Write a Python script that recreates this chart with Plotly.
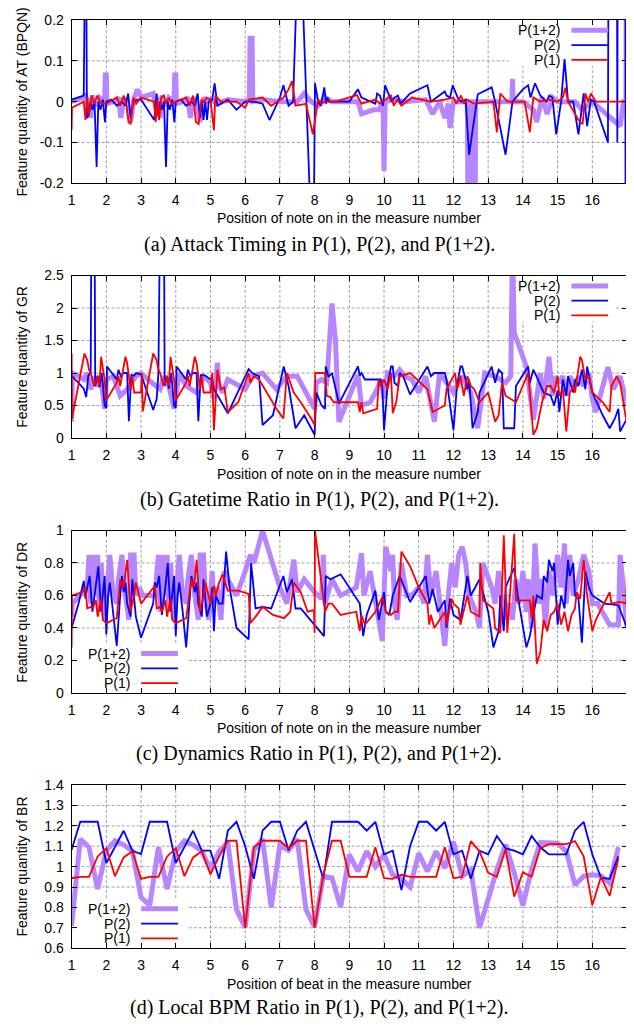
import plotly.graph_objects as go

# ---------------- data ----------------
# (a) Attack Timing
a_x2 = [1.0, 1.35, 1.41, 1.44, 1.5, 1.55, 1.6, 1.66, 1.72, 1.77, 1.83, 1.9, 1.96, 2.0, 2.15, 2.3, 2.45, 2.55, 2.63, 2.7, 2.78, 2.9, 3.0,
        3.38, 3.45, 3.5, 3.55, 3.6, 3.66, 3.72, 3.77, 3.83, 3.9, 3.96, 4.0, 4.15, 4.3, 4.45, 4.55, 4.63, 4.7, 4.75, 4.8, 4.85, 4.9, 4.95,
        5.05, 5.12, 5.2, 5.5, 5.75, 6.0, 6.25, 6.5, 6.7, 7.0, 7.1, 7.25, 7.38, 7.56, 7.96, 8.01, 8.1, 8.18, 8.28, 8.33, 8.37, 8.42, 8.5,
        9.0, 9.25, 9.35, 9.75, 9.8, 9.88, 9.97, 10.03, 10.12, 10.22, 10.3, 10.4, 10.48, 10.75, 11.25, 11.35, 11.75, 11.8, 11.9, 11.98,
        12.12, 12.22, 12.35, 12.45, 12.7, 13.1, 13.2, 13.5, 13.7, 14.0, 14.15, 14.22, 14.35, 14.5, 14.68, 14.76, 14.85, 14.96, 15.1,
        15.2, 15.3, 15.45, 15.6, 15.75, 15.85, 15.96, 16.05, 16.45, 16.48, 16.7, 16.72, 16.74, 16.95, 16.97]
a_y2 = [0.005, 0.015, 0.6, -0.04, -0.03, 0.0, -0.02, 0.0, -0.16, 0.0, -0.02, 0.005, -0.05, 0.0, 0.005, -0.01, 0.0, -0.01, 0.02, -0.04, 0.0, 0.005, 0.005,
        -0.045, 0.02, -0.035, 0.0, -0.02, 0.0, -0.16, 0.0, -0.02, 0.005, -0.05, 0.0, 0.005, -0.01, 0.0, -0.01, 0.02, -0.04, 0.0, -0.045, 0.0, -0.045, 0.0,
        0.005, 0.045, -0.01, 0.005, -0.02, 0.0, 0.0, -0.005, -0.045, 0.01, 0.04, -0.01, 0.0, 0.48, -0.46, 0.045, 0.0, -0.01, 0.035, -0.005, 0.01, 0.0, 0.0,
        0.0, 0.03, 0.01, -0.005, 0.02, 0.015, -0.01, 0.04, 0.02, 0.0, 0.01, 0.015, -0.005, 0.02, 0.04, 0.0, 0.025, 0.015, 0.01, 0.04,
        0.01, 0.0, 0.005, -0.13, 0.018, 0.035, 0.0, -0.13, 0.0, 0.03, 0.04, 0.01, 0.045, 0.015, 0.0, 0.015, 0.01, -0.08, 0.0,
        0.104, 0.0, 0.0, -0.08, 0.02, -0.06, 0.005, 0.0, -0.1, 0.8, 0.8, -0.1, 0.8, 0.8, -0.8]
a_x1 = [1.0, 1.01, 1.35, 1.4, 1.45, 1.5, 1.58, 1.65, 1.74, 1.85, 2.0, 2.3, 2.4, 2.5, 2.58, 2.64, 2.7, 2.78, 2.86, 3.0,
        3.38, 3.42, 3.47, 3.52, 3.58, 3.66, 3.72, 3.8, 3.88, 4.0, 4.3, 4.4, 4.5, 4.58, 4.66, 4.74, 4.8, 4.9, 5.0, 5.1, 5.14, 5.3,
        5.75, 6.0, 6.1, 6.5, 6.75, 7.1, 7.25, 7.35, 7.45, 7.75, 7.95, 8.1, 8.2, 8.3, 8.6, 9.22, 9.35, 9.75, 9.88, 10.05, 10.2,
        10.28, 10.38, 10.5, 10.8, 11.35, 11.75, 12.0, 12.08, 12.22, 12.3, 12.38, 12.6, 13.15, 13.25, 13.35, 13.55, 14.05, 14.2,
        14.3, 14.5, 14.75, 15.0, 15.15, 15.22, 15.3, 15.6, 15.72, 15.8, 15.88, 15.96, 16.1, 17.0]
a_y1 = [-0.07, -0.015, 0.0, -0.045, 0.01, -0.03, 0.015, -0.005, 0.015, -0.005, -0.005, 0.01, -0.01, 0.015, -0.01, -0.05, -0.055, 0.01, -0.005, 0.01,
        0.0, -0.05, 0.005, -0.045, 0.01, 0.015, -0.005, 0.01, -0.005, 0.0, 0.01, -0.01, 0.015, -0.05, -0.055, 0.005, 0.0, 0.01, 0.005, -0.07, 0.015, 0.0,
        0.0, -0.015, 0.005, 0.01, -0.01, 0.01, 0.03, 0.05, -0.01, -0.005, -0.08, 0.005, -0.005, 0.0, 0.0, 0.016, -0.005, 0.005, -0.005, 0.005, 0.015,
        -0.01, 0.005, -0.01, 0.01, 0.0, 0.005, 0.01, -0.005, 0.015, -0.005, 0.005, -0.005, 0.0, -0.075, 0.02, 0.0, 0.0, -0.075,
        0.01, 0.0, 0.005, 0.0, 0.01, 0.034, 0.0, -0.045, -0.055, 0.02, 0.0, 0.02, 0.0, 0.0]
a_x12 = [1.0, 1.35, 1.4, 1.45, 1.5, 1.55, 1.6, 1.7, 1.8, 1.95, 1.97, 2.0, 2.02, 2.2, 2.35, 2.42, 2.5, 2.62, 2.7, 2.8, 2.9, 3.0,
         3.35, 3.45, 3.5, 3.55, 3.6, 3.7, 3.8, 3.95, 3.97, 4.0, 4.02, 4.2, 4.35, 4.42, 4.5, 4.62, 4.7, 4.8, 4.9, 5.0, 5.2, 5.5,
         6.0, 6.12, 6.14, 6.2, 6.22, 6.5, 7.0, 7.5, 7.7, 7.9, 8.1, 8.3, 8.5, 9.25, 9.35, 9.7, 9.85, 9.97, 10.0, 10.03, 10.3, 10.6,
         11.2, 11.4, 11.6, 11.75, 11.85, 11.9, 12.0, 12.4, 12.43, 12.46, 12.58, 12.61, 12.64, 13.5, 13.68, 13.7, 13.72, 14.0, 14.3, 14.4,
         14.55, 14.7, 14.85, 15.0, 15.5, 15.7, 16.0, 16.8, 16.9, 16.97, 16.98, 17.0]
a_y12 = [0.0, 0.01, 0.02, -0.03, 0.01, -0.04, 0.015, -0.01, 0.01, 0.0, 0.065, 0.065, -0.005, 0.0, 0.01, -0.04, 0.01, -0.01, -0.05, 0.01, 0.03, 0.01,
         0.02, -0.03, 0.01, -0.04, 0.015, -0.01, 0.01, 0.0, 0.065, 0.065, -0.005, 0.0, 0.01, -0.04, 0.01, -0.01, -0.05, 0.01, 0.0, 0.005, -0.005, 0.005,
         0.0, 0.005, 0.155, 0.155, 0.0, 0.005, 0.0, 0.0, 0.02, 0.0, -0.01, 0.01, 0.0, 0.0, -0.03, -0.02, -0.02, 0.0, -0.17, 0.0, 0.005, 0.0,
         0.005, -0.03, 0.0, -0.04, -0.005, -0.065, 0.0, 0.0, -0.5, 0.0, 0.0, -0.5, 0.0, 0.0, 0.0, 0.056, 0.0, 0.0, -0.02, -0.05,
         0.01, -0.03, 0.01, 0.0, 0.0, -0.02, 0.0, -0.06, 0.0, 0.0, 0.5, -0.5]

# (b) Gatetime Ratio
b_x2 = [1.0, 1.35, 1.42, 1.48, 1.55, 1.57, 1.66, 1.68, 1.75, 1.8, 1.87, 1.95, 2.0, 2.02, 2.3, 2.35, 2.42, 2.5, 2.6, 2.65, 2.72, 2.8, 2.86, 3.0,
        3.35, 3.45, 3.5, 3.55, 3.66, 3.68, 3.75, 3.8, 3.87, 3.95, 4.0, 4.02, 4.3, 4.35, 4.42, 4.5, 4.6, 4.65, 4.72, 4.85, 4.95, 5.05, 5.1,
        5.5, 6.1, 6.2, 6.4, 6.5, 6.8, 7.05, 7.11, 7.25, 7.45, 7.7, 8.0, 8.05, 8.2, 8.3, 8.32, 8.4, 8.5, 8.7, 9.25, 9.3, 9.35, 9.45,
        9.9, 9.95, 10.0, 10.1, 10.2, 10.25, 10.3, 10.4, 10.45, 10.55, 10.75, 11.25, 11.35, 11.45, 11.75, 11.8, 12.0, 12.1, 12.2,
        12.25, 12.35, 12.4, 12.45, 12.55, 12.7, 12.75, 13.1, 13.2, 13.3, 13.4, 13.45, 13.75, 13.8, 14.15, 14.2, 14.3, 14.35, 14.6,
        14.8, 14.9, 15.0, 15.05, 15.15, 15.25, 15.3, 15.45, 15.5, 15.6, 15.7, 15.8, 15.85, 16.0, 16.3, 16.5, 16.65, 16.75, 16.8, 17.0]
b_y2 = [0.96, 0.76, 0.63, 0.96, 1.01, 3.5, 3.5, 0.8, 0.96, 0.78, 1.0, 0.5, 0.46, 1.1, 0.9, 1.05, 0.95, 1.0, 1.0, 0.26, 0.97, 0.96, 1.0, 0.98,
        0.43, 0.6, 1.0, 3.5, 3.5, 0.8, 0.96, 0.76, 1.0, 0.5, 0.46, 1.1, 0.9, 1.05, 0.95, 1.0, 1.0, 0.26, 0.97, 0.96, 0.92, 0.9, 0.75,
        0.38, 1.06, 1.0, 0.95, 0.2, 0.35, 1.0, 1.1, 0.8, 0.15, 0.35, 0.05, 0.7, 0.5, 0.45, 1.1, 0.94, 1.0, 0.53, 1.1, 0.96, 1.0, 0.9,
        0.9, 0.8, 0.12, 0.8, 1.1, 1.1, 0.85, 0.8, 1.0, 0.95, 0.67, 1.1, 0.95, 1.0, 1.0, 0.9, 0.12, 0.8, 1.1,
        1.1, 0.9, 0.75, 0.9, 0.15, 0.4, 0.7, 1.1, 0.85, 1.05, 1.0, 0.15, 0.15, 0.8, 1.1, 0.85, 1.05, 1.0, 0.7,
        0.65, 0.5, 0.73, 0.4, 0.9, 0.65, 0.95, 0.7, 0.9, 0.8, 1.05, 0.75, 1.1, 0.7, 0.35, 0.15, 0.3, 0.45, 0.1, 0.3]
b_x1 = [1.0, 1.01, 1.37, 1.45, 1.5, 1.55, 1.65, 1.75, 1.8, 1.85, 1.95, 2.0, 2.3, 2.35, 2.4, 2.55, 2.6, 2.7, 2.75, 2.8, 3.0, 3.02, 3.05,
        3.35, 3.45, 3.5, 3.55, 3.65, 3.75, 3.8, 3.85, 3.95, 4.0, 4.3, 4.35, 4.4, 4.55, 4.6, 4.7, 4.75, 4.8, 5.0, 5.05, 5.1, 5.2, 5.3,
        5.4, 5.5, 5.8, 6.1, 6.15, 6.25, 6.4, 6.9, 7.1, 7.2, 7.4, 7.6, 7.9, 8.0, 8.02, 8.3, 8.35, 8.45, 8.55, 9.25, 9.3, 9.35, 9.4,
        9.8, 9.85, 9.9, 10.0, 10.1, 10.2, 10.25, 10.35, 10.45, 10.75, 11.25, 11.4, 11.75, 11.8, 12.05, 12.1, 12.2, 12.3, 12.4, 12.5,
        12.6, 12.75, 13.0, 13.2, 13.3, 13.4, 13.5, 13.8, 14.15, 14.2, 14.3, 14.4, 14.55, 14.7, 14.8, 14.9, 15.0, 15.05, 15.15, 15.25,
        15.35, 15.45, 15.5, 15.65, 15.7, 15.8, 15.9, 16.0, 16.3, 16.5, 16.55, 16.7, 16.8, 17.0]
b_y1 = [1.3, 0.3, 1.3, 1.2, 1.05, 1.0, 0.8, 0.95, 0.8, 1.25, 0.9, 0.58, 0.85, 0.95, 0.8, 1.25, 1.15, 0.75, 0.95, 0.7, 0.7, 1.0, 0.41,
        1.3, 1.2, 1.05, 1.0, 0.8, 0.95, 0.8, 1.25, 0.9, 0.58, 0.85, 0.95, 0.8, 1.25, 1.15, 0.75, 0.95, 0.7, 0.7, 1.0, 0.12, 1.05, 0.75,
        0.78, 0.4, 0.55, 1.0, 0.85, 0.95, 0.9, 0.45, 0.3, 1.0, 0.7, 0.55, 0.3, 0.2, 1.0, 1.0, 0.65, 0.63, 0.55, 0.55, 0.4, 0.55, 0.38,
        0.45, 0.9, 0.8, 0.9, 0.75, 1.0, 0.38, 0.55, 0.95, 1.0, 0.75, 0.4, 0.5, 0.75, 1.0, 0.75, 0.95, 0.65, 0.95, 0.8,
        0.75, 0.55, 0.7, 0.25, 0.35, 0.85, 0.65, 0.55, 1.0, 0.7, 0.05, 0.15, 0.55, 0.8, 0.8, 0.7, 0.95, 0.65, 0.75, 0.1,
        0.7, 0.8, 0.7, 1.25, 1.2, 0.9, 0.95, 0.7, 0.55, 0.4, 0.8, 0.95, 0.85, 0.2]
b_x12 = [1.0, 1.02, 1.2, 1.35, 1.45, 1.55, 1.65, 1.7, 1.85, 1.95, 2.0, 2.2, 2.4, 2.6, 2.85, 3.0, 3.2, 3.4, 3.55, 3.65, 3.8, 3.95,
         4.1, 4.3, 4.6, 4.8, 5.0, 5.1, 5.2, 5.25, 5.35, 5.5, 6.0, 6.2, 6.5, 6.9, 7.2, 7.5, 8.0, 8.05, 8.2, 8.35, 8.5, 8.6, 8.7,
         9.25, 9.35, 9.6, 9.8, 9.9, 10.0, 10.1, 10.3, 10.45, 10.6, 10.8, 11.0, 11.2, 11.45, 11.6, 12.0, 12.25, 12.5, 12.7, 12.9,
         13.2, 13.5, 13.65, 13.7, 13.75, 14.1, 14.3, 14.5, 14.6, 14.75, 14.85, 14.95, 15.05, 15.15, 15.25, 15.35, 15.5, 15.6,
         15.75, 15.9, 16.0, 16.1, 16.45, 16.6, 16.8, 17.0]
b_y12 = [0.25, 1.0, 0.95, 0.9, 1.0, 0.75, 0.95, 0.8, 0.9, 0.45, 0.9, 0.95, 0.65, 0.75, 0.95, 1.0, 0.9, 0.8, 0.75, 0.95, 0.8, 0.45,
         1.0, 0.8, 0.7, 0.95, 0.85, 0.6, 1.16, 0.8, 0.7, 0.9, 0.75, 0.95, 1.0, 0.75, 0.95, 0.95, 0.45, 0.85, 0.9, 0.85, 2.07, 1.5, 0.25,
         0.97, 0.5, 0.55, 0.75, 0.9, 0.6, 1.0, 0.95, 1.05, 0.95, 0.9, 0.7, 0.95, 0.25, 1.0, 0.7, 0.95, 0.7, 0.15, 1.0,
         0.95, 0.85, 0.95, 3.0, 1.62, 1.1, 0.28, 1.0, 0.6, 1.25, 0.65, 0.95, 0.85, 0.95, 0.65, 0.95, 0.8, 0.95,
         0.8, 1.0, 0.6, 0.4, 1.09, 0.75, 0.95, 0.5]

# (c) Dynamics Ratio
c_x2 = [1.0, 1.2, 1.35, 1.4, 1.45, 1.52, 1.6, 1.7, 1.77, 1.85, 1.95, 2.0, 2.05, 2.1, 2.2, 2.3, 2.4, 2.45, 2.5, 2.55, 2.6, 2.7, 2.75, 2.85, 3.0,
        3.35, 3.4, 3.45, 3.52, 3.6, 3.7, 3.77, 3.85, 3.95, 4.0, 4.05, 4.1, 4.2, 4.3, 4.4, 4.45, 4.55, 4.6, 4.65, 4.75, 4.8, 4.9, 5.0,
        5.05, 5.1, 5.15, 5.25, 5.35, 5.45, 5.55, 5.75, 6.1, 6.17, 6.3, 6.5, 6.75, 7.1, 7.2, 7.35, 7.45, 7.6, 8.0, 8.27, 8.32, 8.45,
        8.75, 9.3, 9.35, 9.4, 9.5, 9.75, 9.85, 10.0, 10.05, 10.15, 10.25, 10.45, 10.75, 11.2, 11.3, 11.4, 11.55, 11.75, 11.8, 11.9,
        12.0, 12.2, 12.3, 12.4, 12.5, 12.75, 13.0, 13.15, 13.3, 13.35, 13.45, 13.5, 13.6, 13.75, 13.85, 14.1, 14.2, 14.3, 14.4, 14.55,
        14.6, 14.7, 14.75, 14.85, 14.9, 15.0, 15.1, 15.2, 15.3, 15.35, 15.45, 15.5, 15.6, 15.7, 15.8, 15.9, 16.0, 16.35, 16.75, 17.0]
c_y2 = [0.4, 0.55, 0.69, 0.58, 0.65, 0.72, 0.5, 0.65, 0.78, 0.5, 0.72, 0.36, 0.6, 0.68, 0.5, 0.29, 0.6, 0.72, 0.62, 0.68, 0.55, 0.47, 0.7, 0.47, 0.34,
        0.55, 0.68, 0.65, 0.72, 0.48, 0.65, 0.8, 0.5, 0.72, 0.35, 0.6, 0.68, 0.5, 0.28, 0.6, 0.72, 0.62, 0.68, 0.55, 0.47, 0.7, 0.47, 0.55,
        0.65, 0.38, 0.6, 0.55, 0.55, 0.87, 0.65, 0.4, 0.33, 0.8, 0.52, 0.53, 0.52, 0.72, 0.62, 0.7, 0.52, 0.52, 0.42, 0.35, 0.72, 0.7,
        0.73, 0.55, 0.45, 0.35, 0.48, 0.63, 0.45, 0.62, 0.5, 0.48, 0.6, 0.72, 0.56, 0.72, 0.55, 0.64, 0.5, 0.57, 0.4, 0.58,
        0.48, 0.45, 0.58, 0.72, 0.6, 0.7, 0.5, 0.28, 0.38, 0.6, 0.38, 0.65, 0.7, 0.77, 0.6, 0.28, 0.35, 0.48, 0.6, 0.58,
        0.72, 0.68, 0.82, 0.75, 0.8, 0.42, 0.6, 0.52, 0.82, 0.72, 0.8, 0.6, 0.58, 0.31, 0.75, 0.65, 0.6, 0.55, 0.54, 0.4]
c_x1 = [1.0, 1.01, 1.3, 1.4, 1.45, 1.55, 1.6, 1.7, 1.75, 1.85, 1.9, 2.0, 2.3, 2.4, 2.5, 2.55, 2.6, 2.7, 2.8, 2.85, 3.0,
        3.4, 3.45, 3.55, 3.6, 3.7, 3.75, 3.85, 3.9, 4.0, 4.3, 4.45, 4.5, 4.55, 4.6, 4.7, 4.8, 4.85, 5.0, 5.1, 5.15, 5.25, 5.35,
        5.5, 5.8, 6.1, 6.15, 6.3, 6.5, 6.8, 7.12, 7.3, 7.4, 7.6, 7.8, 7.98, 8.0, 8.01, 8.3, 8.4, 8.5, 8.75, 9.2, 9.3, 9.35, 9.45,
        9.75, 9.95, 10.05, 10.2, 10.3, 10.4, 10.5, 10.75, 11.0, 11.25, 11.3, 11.35, 11.45, 11.75, 11.8, 11.95, 12.0, 12.15, 12.2,
        12.4, 12.5, 12.75, 12.77, 12.85, 13.15, 13.2, 13.35, 13.45, 13.55, 13.75, 13.8, 14.2, 14.25, 14.3, 14.4, 14.5, 14.6, 14.7,
        14.8, 14.9, 15.0, 15.1, 15.2, 15.3, 15.4, 15.5, 15.55, 15.65, 15.75, 15.85, 16.0, 16.1, 16.5, 16.55, 16.8, 16.98, 17.0]
c_y1 = [0.28, 0.6, 0.62, 0.65, 0.52, 0.53, 0.52, 0.57, 0.47, 0.58, 0.45, 0.43, 0.46, 0.7, 0.65, 0.72, 0.82, 0.5, 0.6, 0.68, 0.55,
        0.66, 0.52, 0.53, 0.5, 0.57, 0.47, 0.58, 0.45, 0.43, 0.46, 0.7, 0.65, 0.7, 0.82, 0.5, 0.6, 0.68, 0.55, 0.66, 0.6, 0.68, 0.73,
        0.63, 0.63, 0.61, 0.43, 0.47, 0.53, 0.48, 0.46, 0.5, 0.68, 0.62, 0.5, 0.51, 0.37, 1.0, 0.5, 0.55, 0.55, 0.48, 0.5, 0.38, 0.48, 0.42,
        0.5, 0.59, 0.5, 0.48, 0.5, 0.5, 0.87, 0.78, 0.65, 0.55, 0.42, 0.48, 0.4, 0.5, 0.42, 0.58, 0.55, 0.52, 0.42,
        0.6, 0.5, 0.47, 0.8, 0.57, 0.52, 0.4, 0.37, 0.97, 0.37, 0.98, 0.57, 0.57, 0.46, 0.6, 0.18, 0.25, 0.45, 0.38,
        0.48, 0.5, 0.55, 0.42, 0.5, 0.38, 0.48, 0.52, 0.62, 0.58, 0.82, 0.6, 0.38, 0.45, 0.62, 0.55, 0.56, 0.55, 0.83]
c_x12 = [1.0, 1.02, 1.45, 1.5, 1.55, 1.6, 1.65, 1.75, 1.8, 1.85, 1.95, 2.0, 2.1, 2.2, 2.3, 2.35, 2.45, 2.55, 2.65, 2.7, 2.8, 2.85, 2.95, 3.05,
         3.4, 3.5, 3.55, 3.6, 3.65, 3.75, 3.8, 3.85, 3.95, 4.0, 4.1, 4.2, 4.3, 4.35, 4.45, 4.55, 4.65, 4.7, 4.8, 4.85, 4.95, 5.05,
         5.1, 5.2, 5.3, 5.4, 5.5, 5.75, 6.0, 6.15, 6.25, 6.5, 7.0, 7.2, 7.4, 7.5, 7.7, 8.0, 8.2, 8.25, 8.3, 8.5, 8.75, 9.2, 9.35,
         9.42, 9.6, 9.75, 9.95, 10.05, 10.15, 10.2, 10.25, 10.3, 10.38, 10.5, 10.65, 10.8, 11.0, 11.15, 11.25, 11.35, 11.5, 11.65,
         11.75, 11.85, 11.95, 12.05, 12.15, 12.25, 12.35, 12.45, 12.65, 12.75, 12.85, 13.1, 13.2, 13.3, 13.4, 13.5, 13.6, 13.7,
         13.8, 13.9, 14.0, 14.1, 14.15, 14.25, 14.35, 14.45, 14.55, 14.65, 14.75, 14.85, 15.0, 15.1, 15.2, 15.25, 15.35, 15.45,
         15.6, 15.75, 15.9, 16.0, 16.15, 16.5, 16.75, 16.8, 17.0]
c_y12 = [0.47, 0.55, 0.65, 0.85, 0.55, 0.85, 0.6, 0.85, 0.5, 0.8, 0.45, 0.55, 0.85, 0.6, 0.55, 0.7, 0.85, 0.6, 0.45, 0.85, 0.85, 0.6, 0.65, 0.6,
         0.6, 0.85, 0.5, 0.85, 0.6, 0.85, 0.5, 0.8, 0.45, 0.55, 0.85, 0.6, 0.55, 0.7, 0.85, 0.6, 0.45, 0.85, 0.85, 0.6, 0.45, 0.75,
         0.55, 0.65, 0.45, 0.75, 0.7, 0.6, 0.75, 0.85, 0.8, 1.0, 0.65, 0.55, 0.82, 0.62, 0.7, 0.62, 0.58, 0.85, 0.55, 0.7, 0.6, 0.65, 0.86,
         0.6, 0.75, 0.55, 0.32, 0.9, 0.8, 0.75, 0.85, 0.55, 0.45, 0.8, 0.6, 0.6, 0.65, 0.55, 0.85, 0.6, 0.75, 0.5,
         0.29, 0.6, 0.8, 0.65, 0.85, 0.9, 0.8, 0.6, 0.5, 0.4, 0.8, 0.65, 0.55, 0.75, 0.55, 0.45, 0.55, 0.45,
         0.7, 0.55, 0.75, 0.5, 0.7, 0.4, 0.92, 0.55, 0.7, 0.4, 0.75, 0.6, 0.85, 0.65, 0.92, 0.55, 0.85, 0.6,
         0.7, 0.85, 0.75, 0.55, 0.55, 0.42, 0.42, 0.85, 0.4]

# (d) Local BPM Ratio (4 beats per measure)
d_x = [1 + 0.25 * i for i in range(64)]
d_y2 = [1.083, 1.22, 1.22, 1.22, 1.018, 1.1, 1.176, 1.078, 1.062, 1.22, 1.22, 1.22, 1.018, 1.1, 1.176, 1.078,
        1.078, 0.94, 1.176, 1.22, 1.1, 0.94, 1.176, 1.22, 1.22, 1.08, 1.176, 1.22, 1.08, 0.94, 1.22, 1.22,
        1.22, 1.22, 1.176, 1.22, 1.06, 1.078, 0.885, 1.1, 1.22, 1.22, 1.176, 1.22, 1.06, 1.078, 0.94, 1.078,
        1.06, 1.15, 1.09, 1.078, 1.06, 1.15, 1.095, 1.06, 1.06, 1.06, 1.176, 1.22, 1.06, 0.945, 0.94, 1.05]
d_y1 = [0.943, 0.95, 0.95, 1.05, 1.09, 0.953, 1.045, 1.075, 0.94, 0.95, 0.95, 1.05, 1.09, 0.953, 1.045, 1.075,
        0.962, 1.05, 1.127, 1.127, 0.70, 1.095, 1.127, 1.127, 1.127, 1.09, 1.127, 1.127, 0.70, 0.96, 1.127, 1.127,
        0.95, 0.95, 0.95, 1.095, 0.943, 0.94, 0.96, 0.95, 0.95, 0.95, 0.95, 1.095, 0.943, 0.95, 1.125, 1.075,
        0.97, 0.95, 1.085, 0.853, 0.972, 0.95, 1.09, 1.11, 1.11, 1.11, 1.125, 1.05, 0.81, 0.95, 0.857, 1.04]
d_y12 = [0.71, 1.135, 1.095, 0.89, 1.08, 1.127, 1.107, 1.075, 0.85, 0.81, 1.095, 0.89, 1.075, 1.127, 1.107, 1.075,
         0.986, 1.075, 1.118, 0.79, 0.70, 1.08, 1.135, 0.80, 1.107, 1.08, 1.135, 0.79, 0.705, 0.953, 0.945, 0.80,
         1.06, 0.977, 1.075, 1.0, 1.06, 0.96, 0.94, 0.90, 1.065, 0.977, 1.075, 0.994, 1.122, 0.953, 0.986, 0.70,
         0.84, 0.986, 1.107, 0.97, 0.81, 0.986, 1.118, 1.115, 1.115, 1.075, 0.91, 0.953, 0.96, 0.955, 0.92, 1.095]

x_ticks = list(range(1, 17))
y_ticks = [[-0.2, -0.1, 0, 0.1, 0.2], [0, 0.5, 1, 1.5, 2, 2.5], [0, 0.2, 0.4, 0.6, 0.8, 1],
           [0.6, 0.7, 0.8, 0.9, 1, 1.1, 1.2, 1.3, 1.4]]
y_tick_text = [["-0.2", "-0.1", "0", "0.1", "0.2"], ["0", "0.5", "1", "1.5", "2", "2.5"],
               ["0", "0.2", "0.4", "0.6", "0.8", "1"], ["0.6", "0.7", "0.8", "0.9", "1", "1.1", "1.2", "1.3", "1.4"]]
y_ranges = [[-0.2, 0.2], [0, 2.5], [0, 1], [0.6, 1.4]]
y_titles = ["Feature quantity of AT (BPQN)", "Feature quantity of GR", "Feature quantity of DR", "Feature quantity of BR"]
x_titles = ["Position of note on in the measure number"] * 3 + ["Position of beat in the measure number"]
captions = ["(a) Attack Timing in P(1), P(2), and P(1+2).", "(b) Gatetime Ratio in P(1), P(2), and P(1+2).",
            "(c) Dynamics Ratio in P(1), P(2), and P(1+2).", "(d) Local BPM Ratio in P(1), P(2), and P(1+2)."]
series_names = ["P(1+2)", "P(2)", "P(1)"]

# ---------------- layout ----------------
# target page geometry (pixels in the 634x1030 window); the html body keeps its default 8px margin
OFF = 8
W, H = 634 - OFF, 1030 - OFF
PX0, PX1 = 68, 627
XMIN, XMAX = 1, 17
panel_px = [(12, 178), (271.7, 436.7), (530.7, 695.7), (789.3, 955)]
xtitle_py = [213, 473, 731, 991]
caption_py = [240, 499, 757, 1015]
legend_pos = ["tr", "tr", "bl", "bl"]

C12, C2, C1 = "#b786ff", "#0000ff", "#ff0000"
WIDTHS = [5, 1.8, 1.8]
COLORS = [C12, C2, C1]
SANS = "Liberation Sans, Arial, sans-serif"
SERIF = "Liberation Serif, Times New Roman, serif"
GRID = dict(color="#a0a0a0", width=1, dash="3px,2px")

data = [
    [(a_x12, a_y12), (a_x2, a_y2), (a_x1, a_y1)],
    [(b_x12, b_y12), (b_x2, b_y2), (b_x1, b_y1)],
    [(c_x12, c_y12), (c_x2, c_y2), (c_x1, c_y1)],
    [(d_x, d_y12), (d_x, d_y2), (d_x, d_y1)],
]

fig = go.Figure()
layout = dict(width=W, height=H, margin=dict(l=0, r=0, t=0, b=0, pad=0), paper_bgcolor="white",
              plot_bgcolor="white", showlegend=False, annotations=[], shapes=[])


def px2paper(px):
    return (px - OFF) / W


def py2paper(py):
    return 1 - (py - OFF) / H


for i in range(4):
    n = "" if i == 0 else str(i + 1)
    xr_, yr_ = "x" + n, "y" + n
    top, bot = panel_px[i]
    h = bot - top
    ymin, ymax = y_ranges[i]

    def dx(px):
        return XMIN + (px - PX0) / (PX1 - PX0) * (XMAX - XMIN)

    def dy(py):
        return ymin + (bot - py) / h * (ymax - ymin)

    for (xs, ys), col, w, name in zip(data[i], COLORS, WIDTHS, series_names):
        fig.add_trace(go.Scatter(x=xs, y=ys, mode="lines", name=name, xaxis=xr_, yaxis=yr_,
                                 line=dict(color=col, width=w), hoverinfo="skip"))
    common = dict(showline=True, linecolor="black", linewidth=1, mirror="ticks", ticks="inside", ticklen=5,
                  tickcolor="black", showgrid=False, zeroline=False,
                  tickfont=dict(family=SANS, size=14, color="black"))
    layout["xaxis" + n] = dict(common, domain=[px2paper(PX0), px2paper(PX1)], range=[XMIN, XMAX], tickvals=x_ticks,
                               anchor=yr_, ticklabelstandoff=4)
    layout["yaxis" + n] = dict(common, domain=[py2paper(bot), py2paper(top)], range=y_ranges[i],
                               tickvals=y_ticks[i], ticktext=y_tick_text[i], anchor=xr_, ticklabelstandoff=4)

    # legend box (masks grid) and rows
    if legend_pos[i] == "tr":
        bx0, bx1, by0, by1 = 508, 616, top, top + 47
        text_right, l0, l1 = 562, 571, 608
        rows = [top + 10.5, top + 25.5, top + 40.5]
    else:
        bx0, bx1, by0, by1 = 70, 186, bot - 51, bot
        text_right, l0, l1 = 129, 138, 175
        rows = [bot - 40, bot - 25, bot - 10]
    bxa, bxb = dx(bx0), dx(bx1)
    bya, byb = dy(by1), dy(by0)

    # grid lines as dashed shapes, interrupted by the key box
    for yt in y_ticks[i]:
        if yt <= ymin or yt >= ymax:
            continue
        segs = [(XMIN, XMAX)]
        if bya <= yt <= byb:
            segs = [(XMIN, bxa), (bxb, XMAX)]
        for s0, s1 in segs:
            if s1 - s0 > 1e-6:
                layout["shapes"].append(dict(type="line", xref=xr_, yref=yr_, layer="below",
                                             x0=s0, x1=s1, y0=yt, y1=yt, line=GRID))
    for xt in x_ticks:
        if xt <= XMIN or xt >= XMAX:
            continue
        segs = [(ymin, ymax)]
        if bxa <= xt <= bxb:
            segs = [(ymin, bya), (byb, ymax)]
        for s0, s1 in segs:
            if s1 - s0 > 1e-6:
                layout["shapes"].append(dict(type="line", xref=xr_, yref=yr_, layer="below",
                                             x0=xt, x1=xt, y0=s0, y1=s1, line=GRID))

    for name, col, w, ry in zip(series_names, COLORS, WIDTHS, rows):
        layout["annotations"].append(dict(text=name, xref="paper", yref="paper", x=px2paper(text_right),
                                          y=py2paper(ry), xanchor="right", yanchor="middle", showarrow=False,
                                          font=dict(family=SANS, size=14, color="black")))
        layout["shapes"].append(dict(type="line", xref=xr_, yref=yr_, layer="above",
                                     x0=dx(l0), x1=dx(l1), y0=dy(ry), y1=dy(ry), line=dict(color=col, width=w)))

    # axis titles & caption
    layout["annotations"].append(dict(text=x_titles[i], xref="paper", yref="paper", x=px2paper((PX0 + PX1) / 2),
                                      y=py2paper(xtitle_py[i]), xanchor="center", yanchor="middle", showarrow=False,
                                      font=dict(family=SANS, size=14, color="black")))
    layout["annotations"].append(dict(text=y_titles[i], xref="paper", yref="paper", x=px2paper(18),
                                      y=py2paper((top + bot) / 2), xanchor="center", yanchor="middle", textangle=-90,
                                      showarrow=False, font=dict(family=SANS, size=14, color="black")))
    layout["annotations"].append(dict(text=captions[i], xref="paper", yref="paper", x=px2paper(317),
                                      y=py2paper(caption_py[i]), xanchor="center", yanchor="middle", showarrow=False,
                                      font=dict(family=SERIF, size=20, color="black")))

fig.update_layout(**layout)
fig.write_html("out.html", config={"displayModeBar": False})
